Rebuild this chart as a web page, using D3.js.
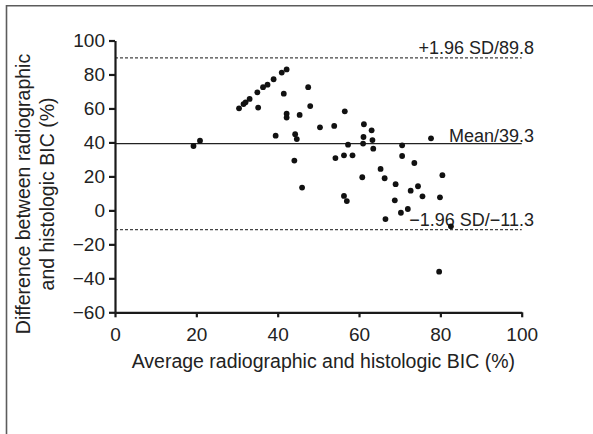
<!DOCTYPE html>
<html>
<head>
<meta charset="utf-8">
<script src="https://cdn.jsdelivr.net/npm/d3@7"></script>
<style>
  html, body { margin: 0; padding: 0; background: #fff; }
  svg { display: block; }
  text { font-family: "Liberation Sans", Arial, sans-serif; fill: #222; }
</style>
</head>
<body>
<svg id="chart" width="593" height="434"></svg>
<script>
// Bland–Altman data: average of radiographic and histologic BIC (%) vs their difference (%)
const avgBIC = [
  19.3, 20.9, 30.5, 31.6, 32.1, 33.1, 35.0, 35.2, 36.4, 37.5,
  39.0, 41.0, 42.2, 41.5, 47.5, 48.0, 42.2, 42.2, 45.4, 39.5,
  44.3, 44.7, 44.1, 46.0, 50.4, 53.9, 56.5, 54.2, 56.3, 58.4,
  57.3, 61.2, 63.1, 61.1, 63.3, 61.0, 63.5, 60.8, 65.3, 56.3,
  57.0, 77.7, 70.6, 70.6, 73.6, 66.3, 80.5, 69.0, 74.5, 72.7,
  75.6, 79.9, 68.8, 72.0, 70.3, 66.5, 82.6, 79.7
];
const diffBIC = [
  37.9, 41.0, 60.1, 62.6, 63.6, 65.6, 69.5, 60.5, 72.5, 74.0,
  77.2, 81.1, 83.0, 68.7, 72.5, 61.4, 56.9, 54.6, 56.2, 44.0,
  44.8, 42.0, 29.3, 13.4, 48.9, 49.7, 58.3, 30.8, 32.4, 32.4,
  38.7, 50.7, 47.1, 43.2, 41.4, 39.3, 36.3, 19.5, 24.4, 8.5,
  5.5, 42.4, 38.3, 32.0, 27.9, 18.9, 20.7, 15.4, 14.2, 11.6,
  8.3, 7.7, 5.9, 0.8, -1.4, -5.1, -9.4, -36.1
];

// Reference lines: upper limit of agreement, mean difference, lower limit
const refNames  = ["+1.96 SD", "Mean", "\u22121.96 SD"];
const refValues = [89.8, 39.3, -11.3];
const refDashed = [true, false, true];

const xTicks = [0, 20, 40, 60, 80, 100];
const yTicks = [-60, -40, -20, 0, 20, 40, 60, 80, 100];

const xTitle = "Average radiographic and histologic BIC (%)";
const yTitleLines = ["Difference between radiographic", "and histologic BIC (%)"];

const fmt = v => (v < 0 ? "\u2212" + Math.abs(v) : String(v));

const svg = d3.select("#chart");

// outer frame (top and left rules)
svg.append("path")
  .attr("d", "M6.5,434 V5.75 H593")
  .attr("fill", "none")
  .attr("stroke", "#5c5c5c")
  .attr("stroke-width", 1.6);

const x = d3.scaleLinear().domain([0, 100]).range([115, 521.7]);
const y = d3.scaleLinear().domain([-60, 100]).range([312.3, 40.5]);

// reference lines
const refs = refValues.map((v, i) => ({ v, name: refNames[i], dashed: refDashed[i] }));
svg.append("g").selectAll("line")
  .data(refs)
  .join("line")
  .attr("x1", x(0)).attr("x2", x(100))
  .attr("y1", d => y(d.v)).attr("y2", d => y(d.v))
  .attr("stroke", d => d.dashed ? "#444" : "#222")
  .attr("stroke-width", d => d.dashed ? 1.2 : 1.4)
  .attr("stroke-dasharray", d => d.dashed ? "3,2" : null);

svg.append("g").selectAll("text")
  .data(refs)
  .join("text")
  .attr("x", 534)
  .attr("y", d => y(d.v) - (d.dashed ? 3.5 : 2))
  .attr("text-anchor", "end")
  .style("font-size", "18px")
  .text(d => d.name + "/" + fmt(d.v));

// points
svg.append("g").selectAll("circle")
  .data(avgBIC.map((a, i) => [a, diffBIC[i]]))
  .join("circle")
  .attr("cx", d => x(d[0]))
  .attr("cy", d => y(d[1]))
  .attr("r", 2.9)
  .attr("fill", "#111");

// axes
const yAxis = svg.append("g")
  .attr("transform", `translate(${x(0)},0)`)
  .call(d3.axisLeft(y).tickValues(yTicks).tickSize(6).tickSizeOuter(0).tickPadding(4).tickFormat(fmt));
const xAxis = svg.append("g")
  .attr("transform", `translate(0,${y(-60)})`)
  .call(d3.axisBottom(x).tickValues(xTicks).tickSize(5).tickSizeOuter(0).tickPadding(10).tickFormat(fmt));

[yAxis, xAxis].forEach(g => {
  g.select(".domain").attr("stroke", "#1a1a1a").attr("stroke-width", 2.2);
  g.selectAll(".tick line").attr("stroke", "#1a1a1a").attr("stroke-width", 2.2);
  g.selectAll(".tick text")
    .style("font-family", "'Liberation Sans', Arial, sans-serif")
    .style("font-size", "19px")
    .attr("fill", "#222");
});

// axis titles
svg.append("text")
  .attr("x", (x(0) + x(100)) / 2 + 5)
  .attr("y", 368)
  .attr("text-anchor", "middle")
  .style("font-size", "19.5px")
  .text(xTitle);

const yt = svg.append("text")
  .attr("transform", "translate(0,194) rotate(-90)")
  .attr("text-anchor", "middle")
  .style("font-size", "19.5px");
yt.selectAll("tspan")
  .data(yTitleLines)
  .join("tspan")
  .attr("x", 0)
  .attr("y", (d, i) => 29.5 + i * 24.5)
  .text(d => d);
</script>
</body>
</html>
